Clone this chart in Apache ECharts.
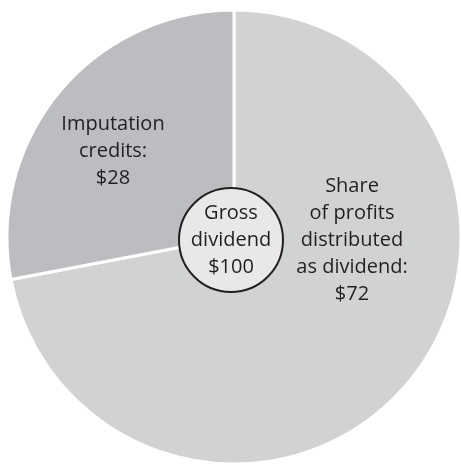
<!DOCTYPE html>
<html>
<head>
    <meta charset="utf-8">
    <title>Gross dividend</title>
    <script src="https://cdn.jsdelivr.net/npm/echarts@6/dist/echarts.min.js"></script>
    <style>
        html, body { margin: 0; padding: 0; background: #fff; }
        #main { width: 461px; height: 464px; }
    </style>
</head>
<body>
    <div id="main"></div>
    <script type="text/javascript">
        // slices: share of profits / imputation credits
        var sliceNames = ['Share of profits distributed as dividend', 'Imputation credits'];
        var sliceValues = [72, 28];
        var sliceLabels = [
            ['Share', 'of profits', 'distributed', 'as dividend:', '$72'],
            ['Imputation', 'credits:', '$28']
        ];
        var centerLabel = ['Gross', 'dividend', '$100'];

        var chart = echarts.init(document.getElementById('main'));
        var font = '"Open Sans", Lato, sans-serif';

        var pieData = [];
        for (var i = 0; i < sliceValues.length; i++) {
            pieData.push({ name: sliceNames[i], value: sliceValues[i] });
        }

        chart.setOption({
            animation: false,
            series: [
                {
                    type: 'pie',
                    center: [234, 237],
                    radius: [0, 227],
                    startAngle: 90,
                    clockwise: true,
                    color: ['#d1d2d4', '#bcbdc0'],
                    itemStyle: { borderColor: '#fff', borderWidth: 3 },
                    label: { show: false },
                    labelLine: { show: false },
                    silent: true,
                    data: pieData
                },
                {
                    type: 'pie',
                    center: [231, 240],
                    radius: [0, 52],
                    silent: true,
                    itemStyle: { color: '#e8e8e9', borderColor: '#231f20', borderWidth: 2 },
                    label: {
                        show: true,
                        position: 'center',
                        formatter: centerLabel.join('\n'),
                        fontFamily: font,
                        fontSize: 20,
                        lineHeight: 27,
                        color: '#231f20'
                    },
                    labelLine: { show: false },
                    data: [{ name: 'Gross dividend', value: 100 }]
                }
            ],
            graphic: [
                {
                    type: 'text',
                    z: 100,
                    x: 352, y: 173,
                    style: {
                        text: sliceLabels[0].join('\n'),
                        align: 'center',
                        font: '20px ' + font,
                        lineHeight: 27,
                        fill: '#231f20'
                    }
                },
                {
                    type: 'text',
                    z: 100,
                    x: 113, y: 111,
                    style: {
                        text: sliceLabels[1].join('\n'),
                        align: 'center',
                        font: '20px ' + font,
                        lineHeight: 27,
                        fill: '#231f20'
                    }
                }
            ]
        });
    </script>
</body>
</html>
